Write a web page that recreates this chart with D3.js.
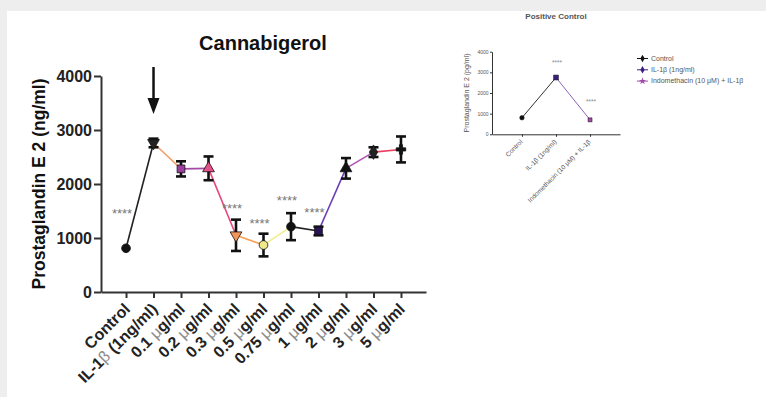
<!DOCTYPE html>
<html>
<head>
<meta charset="utf-8">
<script src="https://cdn.jsdelivr.net/npm/d3@7"></script>
<style>
  html, body { margin: 0; padding: 0; background: #fff; }
  svg { display: block; font-family: 'Liberation Sans', Arial, sans-serif; }
</style>
</head>
<body>
<svg id="chart" width="766" height="397"></svg>
<script>
// main chart data
const categories = ['Control', 'IL-1β (1ng/ml)', '0.1 μg/ml', '0.2 μg/ml', '0.3 μg/ml', '0.5 μg/ml', '0.75 μg/ml', '1 μg/ml', '2 μg/ml', '3 μg/ml', '5 μg/ml']
const means = [810, 2760, 2280, 2290, 1050, 870, 1210, 1130, 2290, 2590, 2640]
const errors = [0, 80, 140, 220, 290, 210, 250, 80, 190, 90, 240]
const starLevels = [1480, null, null, null, 1570, 1290, 1720, 1500, null, null, null]
const yTicks = [0, 1000, 2000, 3000, 4000]

// inset (positive control) data
const insetCategories = ['Control', 'IL-1β (1ng/ml)', 'Indomethacin (10 μM) + IL-1β']
const insetMeans = [800, 2750, 700]
const insetStarLevels = [null, 3500, 1600]
const insetLegend = ['Control', 'IL-1β (1ng/ml)', 'Indomethacin (10 μM) + IL-1β']

const shapes = ['circle', 'tridown', 'square', 'triangle', 'tridown', 'circle', 'circle', 'square', 'triangle', 'diamond', 'cross']
const markColors = ['#111', '#222', '#9b3fa0', '#e8508a', '#f4955a', '#eee98a', '#111', '#2a1458', '#111', '#222', '#111']
const segColors = [null, '#222', '#f5a06a', '#a34aa5', '#e8477a', '#f6a055', '#f2ee90', '#222', '#6a3db8', '#b055b5', '#e8405e']
const insetSegColors = [null, '#333', '#8a63b8']
const insetMarkColors = ['#111', '#3b1f80', '#a04aa8']

const svg = d3.select('#chart')

// page frame
svg.append('rect').attr('width', 766).attr('height', 397).attr('fill', '#fff')
svg.append('rect').attr('width', 766).attr('height', 11).attr('fill', '#eeeeee')
svg.append('rect').attr('width', 7).attr('height', 397).attr('fill', '#eeeeee')

const symType = {
  circle: d3.symbolCircle, square: d3.symbolSquare, triangle: d3.symbolTriangle,
  tridown: d3.symbolTriangle, diamond: d3.symbolDiamond, cross: d3.symbolCross,
}

// ---------- main chart ----------
const M = { left: 101, right: 426, top: 76, bottom: 292 }
const x = d3.scalePoint().domain(categories).range([M.left, M.right]).padding(0.91)
const y = d3.scaleLinear().domain([0, 4000]).range([M.bottom, M.top])

const g = svg.append('g')

g.append('text').attr('x', 263).attr('y', 50).attr('text-anchor', 'middle')
  .attr('font-size', 20).attr('font-weight', 'bold').attr('fill', '#111').text('Cannabigerol')

g.append('text').attr('transform', `translate(45,${(M.top + M.bottom) / 2}) rotate(-90)`)
  .attr('text-anchor', 'middle').attr('font-size', 17.5).attr('font-weight', 'bold').attr('fill', '#111')
  .text('Prostaglandin E 2 (ng/ml)')

const yAxis = g.append('g').attr('transform', `translate(${M.left},0)`)
  .call(d3.axisLeft(y).tickValues(yTicks).tickFormat(d3.format('d')).tickSize(7).tickSizeOuter(0).tickPadding(2))
yAxis.select('.domain').attr('stroke', '#333').attr('stroke-width', 2)
yAxis.selectAll('.tick line').attr('stroke', '#333').attr('stroke-width', 2)
yAxis.selectAll('.tick text').attr('font-size', 16).attr('font-weight', 'bold').attr('fill', '#222')
  .attr('font-family', "'Liberation Sans', Arial, sans-serif")

const xAxis = g.append('g').attr('transform', `translate(0,${M.bottom})`)
  .call(d3.axisBottom(x).tickSize(6).tickSizeOuter(0).tickFormat(''))
xAxis.select('.domain').attr('stroke', '#333').attr('stroke-width', 2)
xAxis.selectAll('.tick line').attr('stroke', '#333').attr('stroke-width', 2)

categories.forEach(c => {
  const t = g.append('text')
    .attr('transform', `translate(${x(c) + 5},${M.bottom + 18}) rotate(-45)`)
    .attr('text-anchor', 'end').attr('font-size', 16).attr('font-weight', 'bold').attr('fill', '#222')
  c.split(/([μβ])/).forEach(part => {
    if (!part) return
    const greek = part === 'μ' || part === 'β'
    t.append('tspan').text(part)
      .attr('font-weight', greek ? 'normal' : 'bold')
      .attr('fill', greek ? '#8a8a8a' : '#222')
  })
})

// connecting lines
const pts = categories.map((c, i) => ({ c, i, v: means[i], e: errors[i] }))
pts.slice(1).forEach(p => {
  const prev = pts[p.i - 1]
  g.append('line')
    .attr('x1', x(prev.c)).attr('y1', y(prev.v))
    .attr('x2', x(p.c)).attr('y2', y(p.v))
    .attr('stroke', segColors[p.i]).attr('stroke-width', 1.6)
})

// error bars
pts.filter(p => p.e > 0).forEach(p => {
  const cx = x(p.c)
  const eg = g.append('g').attr('stroke', '#111').attr('stroke-width', 2.6)
  eg.append('line').attr('x1', cx).attr('x2', cx).attr('y1', y(p.v - p.e)).attr('y2', y(p.v + p.e))
  eg.append('line').attr('x1', cx - 5).attr('x2', cx + 5).attr('y1', y(p.v - p.e)).attr('y2', y(p.v - p.e))
  eg.append('line').attr('x1', cx - 5).attr('x2', cx + 5).attr('y1', y(p.v + p.e)).attr('y2', y(p.v + p.e))
})

// markers
pts.forEach(p => {
  const s = shapes[p.i]
  g.append('path')
    .attr('d', d3.symbol().type(symType[s]).size(s === 'cross' ? 50 : 60)())
    .attr('transform', `translate(${x(p.c)},${y(p.v)})${s === 'tridown' ? ' rotate(180)' : ''}`)
    .attr('fill', markColors[p.i]).attr('stroke', '#111').attr('stroke-width', 0.8)
})

// significance stars
pts.forEach(p => {
  if (starLevels[p.i] == null) return
  g.append('text').attr('x', x(p.c) - 4).attr('y', y(starLevels[p.i]) + 6)
    .attr('text-anchor', 'middle').attr('font-size', 13).attr('fill', '#777').text('****')
})

// arrow pointing at IL-1β
const ax = x(categories[1])
g.append('line').attr('x1', ax).attr('x2', ax).attr('y1', 67).attr('y2', 100)
  .attr('stroke', '#111').attr('stroke-width', 2.5)
g.append('path').attr('d', `M${ax - 6},98 L${ax + 6},98 L${ax},114 Z`).attr('fill', '#111')

// ---------- inset: positive control ----------
const I = { left: 492, right: 620, top: 51.7, bottom: 134.3 }
const xi = d3.scalePoint().domain(insetCategories).range([I.left, I.right]).padding(0.88)
const yi = d3.scaleLinear().domain([0, 4000]).range([I.bottom, I.top])
const gi = svg.append('g')

gi.append('text').attr('x', 556).attr('y', 18.5).attr('text-anchor', 'middle')
  .attr('font-size', 8).attr('font-weight', 'bold').attr('fill', '#555').text('Positive Control')

gi.append('text').attr('transform', `translate(469,${(I.top + I.bottom) / 2}) rotate(-90)`)
  .attr('text-anchor', 'middle').attr('font-size', 7).attr('fill', '#555')
  .text('Prostaglandin E 2 (pg/ml)')

const yiAxis = gi.append('g').attr('transform', `translate(${I.left},0)`)
  .call(d3.axisLeft(yi).tickValues(yTicks).tickFormat(d3.format('d')).tickSize(2).tickSizeOuter(0).tickPadding(1.5))
yiAxis.select('.domain').attr('stroke', '#333').attr('stroke-width', 1)
yiAxis.selectAll('.tick line').attr('stroke', '#333')
yiAxis.selectAll('.tick text').attr('font-size', 5).attr('fill', '#555')
  .attr('font-family', "'Liberation Sans', Arial, sans-serif")

const xiAxis = gi.append('g').attr('transform', `translate(0,${I.bottom})`)
  .call(d3.axisBottom(xi).tickSize(2.5).tickSizeOuter(0).tickFormat(''))
xiAxis.select('.domain').attr('stroke', '#333').attr('stroke-width', 1)
xiAxis.selectAll('.tick line').attr('stroke', '#333')

insetCategories.forEach(c => {
  gi.append('text').attr('transform', `translate(${xi(c) + 1},${I.bottom + 8}) rotate(-45)`)
    .attr('text-anchor', 'end').attr('font-size', 6.5).attr('fill', '#555').text(c)
})

insetCategories.slice(1).forEach((c, k) => {
  const i = k + 1
  gi.append('line')
    .attr('x1', xi(insetCategories[i - 1])).attr('y1', yi(insetMeans[i - 1]))
    .attr('x2', xi(c)).attr('y2', yi(insetMeans[i]))
    .attr('stroke', insetSegColors[i]).attr('stroke-width', 1)
})
insetCategories.forEach((c, i) => {
  gi.append('path').attr('d', d3.symbol().type(i === 0 ? d3.symbolCircle : d3.symbolSquare).size(i === 1 ? 24 : 16)())
    .attr('transform', `translate(${xi(c)},${yi(insetMeans[i])})`)
    .attr('fill', insetMarkColors[i]).attr('stroke', '#111').attr('stroke-width', 0.5)
  if (insetStarLevels[i] != null) {
    gi.append('text').attr('x', xi(c) + 1).attr('y', yi(insetStarLevels[i]) + 3)
      .attr('text-anchor', 'middle').attr('font-size', 6.5).attr('fill', '#888').text('****')
  }
})

// legend
insetLegend.forEach((name, i) => {
  const ly = 58.5 + i * 11.3
  const lg = gi.append('g')
  lg.append('line').attr('x1', 637).attr('x2', 648).attr('y1', ly).attr('y2', ly)
    .attr('stroke', insetMarkColors[i]).attr('stroke-width', 1)
  lg.append('path').attr('d', d3.symbol().type(i === 2 ? d3.symbolStar : d3.symbolDiamond).size(16)())
    .attr('transform', `translate(642.5,${ly})`).attr('fill', insetMarkColors[i])
  lg.append('text').attr('x', 651).attr('y', ly + 2.3).attr('font-size', 7).attr('fill', '#555').text(name)
})
</script>
</body>
</html>
